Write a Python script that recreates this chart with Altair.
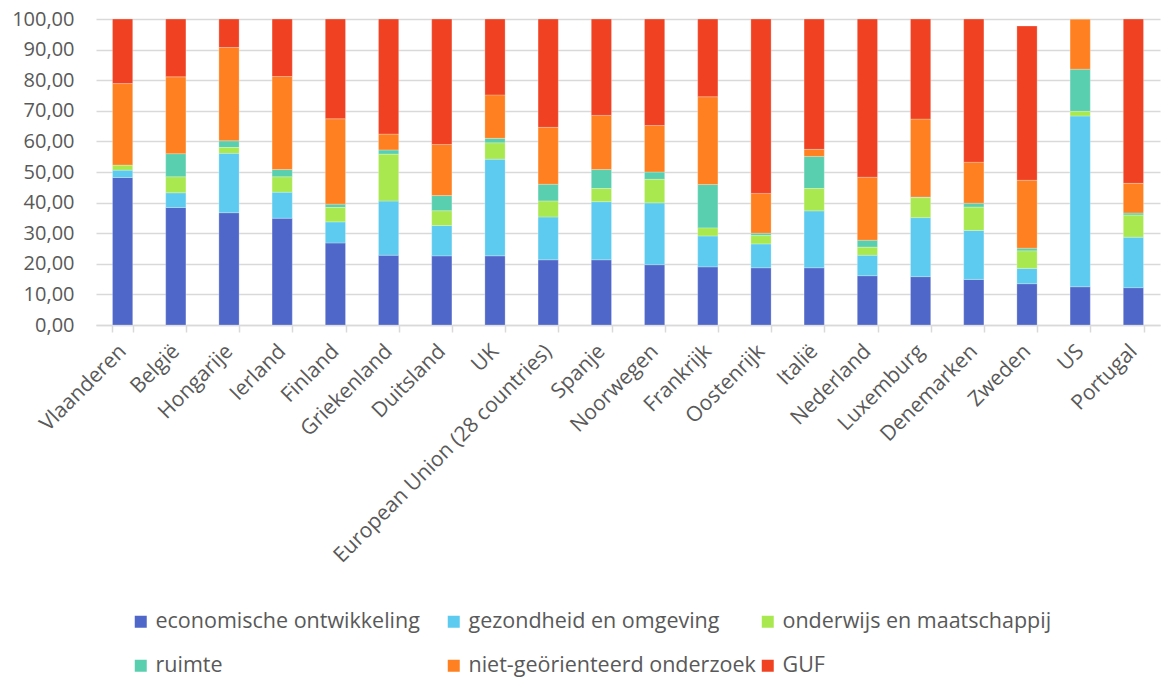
import altair as alt
import pandas as pd

countries = ["Vlaanderen", "België", "Hongarije", "Ierland", "Finland", "Griekenland",
             "Duitsland", "UK", "European Union (28 countries)", "Spanje", "Noorwegen",
             "Frankrijk", "Oostenrijk", "Italië", "Nederland", "Luxemburg", "Denemarken",
             "Zweden", "US", "Portugal"]

series = ["economische ontwikkeling", "gezondheid en omgeving", "onderwijs en maatschappij",
          "ruimte", "niet-geörienteerd onderzoek", "GUF"]
colors = ["#4F67C8", "#5DCBF0", "#A9E84F", "#5ACFB0", "#FF8020", "#F04223"]

econ = [48.2, 38.4, 36.7, 34.9, 26.8, 22.8, 22.6, 22.6, 21.3, 21.3, 19.7, 19.0, 18.7, 18.7, 16.1, 15.8, 14.9, 13.5, 12.5, 12.2]
gez = [2.4, 4.8, 19.4, 8.5, 6.9, 17.7, 9.9, 31.6, 14.0, 19.0, 20.2, 10.1, 7.8, 18.6, 6.7, 19.3, 16.0, 5.0, 55.8, 16.5]
ond = [1.6, 5.2, 1.9, 5.0, 4.7, 15.3, 4.8, 5.3, 5.2, 4.3, 7.7, 2.6, 2.7, 7.3, 2.6, 6.5, 7.6, 5.7, 1.5, 7.2]
ruimte = [0.0, 7.6, 2.2, 2.4, 1.1, 1.4, 5.0, 1.5, 5.5, 6.2, 2.4, 14.2, 0.8, 10.5, 2.3, 0.2, 1.3, 0.9, 13.8, 0.7]
nietgeo = [26.7, 25.1, 30.5, 30.4, 27.9, 5.2, 16.7, 14.2, 18.6, 17.7, 15.2, 28.7, 13.0, 2.3, 20.6, 25.5, 13.4, 22.2, 16.4, 9.7]
guf = [21.1, 18.9, 9.3, 18.8, 32.6, 37.6, 41.0, 24.8, 35.4, 31.5, 34.8, 25.4, 57.0, 42.6, 51.7, 32.7, 46.8, 50.4, 0.0, 53.7]

values = [econ, gez, ond, ruimte, nietgeo, guf]
rows = []
for si, (s, vals) in enumerate(zip(series, values)):
    for c, v in zip(countries, vals):
        rows.append({"land": c, "reeks": s, "waarde": v, "volgorde": si})
df = pd.DataFrame(rows)

FONT = "Open Sans"
GREY = "#595959"

x_enc = alt.X("land:N", sort=countries, title=None,
              scale=alt.Scale(paddingInner=0.62, paddingOuter=0.31),
              axis=alt.Axis(labelAngle=-45, labelFontSize=21, labelColor=GREY, labelFont=FONT,
                            labelAlign="right", labelBaseline="middle", labelPadding=16,
                            domainColor="#d9d9d9", domainWidth=1.5,
                            tickColor="#d9d9d9", tickWidth=1.5, tickSize=7, tickBand="extent",
                            labelLimit=400))
y_enc = alt.Y("y0:Q", title=None,
              scale=alt.Scale(domain=[0, 100], nice=False),
              axis=alt.Axis(values=list(range(0, 101, 10)),
                            labelExpr="replace(format(datum.value, '.2f'), '.', ',')",
                            labelFontSize=20, labelColor=GREY, labelFont=FONT, labelPadding=22,
                            domain=False, ticks=False, gridColor="#d9d9d9", gridWidth=1.5))

# legend columns as in the reference: (econ, ruimte), (gez, niet-geo), (ond, GUF)
legend_cols = [(0, 3), (1, 4), (2, 5)]
legend_x = [34, 347, 661]

base = alt.Chart(df).transform_stack(
    stack="waarde", groupby=["land"], as_=["y0", "y1"],
    sort=[alt.SortField("volgorde", order="ascending")])

layers = []
for (a, b), lx in zip(legend_cols, legend_x):
    dom = [series[a], series[b]]
    rng = [colors[a], colors[b]]
    layer = base.transform_filter(
        alt.FieldOneOfPredicate(field="reeks", oneOf=dom)
    ).mark_bar(stroke="white", strokeWidth=0.4, strokeOpacity=0.6).encode(
        x=x_enc,
        y=y_enc,
        y2="y1:Q",
        color=alt.Color("reeks:N", title=None,
                        scale=alt.Scale(domain=dom, range=rng),
                        legend=alt.Legend(orient="none", legendX=lx, legendY=592,
                                          direction="vertical", padding=0,
                                          rowPadding=21,
                                          symbolType="square", symbolSize=144,
                                          symbolStrokeWidth=0, symbolOpacity=1,
                                          labelFontSize=21.5, labelColor=GREY, labelFont=FONT,
                                          labelLimit=400, labelOffset=4)),
        tooltip=["land", "reeks", "waarde"],
    )
    layers.append(layer)

chart = alt.layer(*layers).resolve_scale(color="independent").properties(
    width=1064, height=306,
    autosize=alt.AutoSizeParams(type="none"),
    padding={"left": 88, "top": 11, "right": 5, "bottom": 352}
).configure_view(stroke=None)

chart.save("out.html", embed_options={"renderer": "svg", "actions": False})
